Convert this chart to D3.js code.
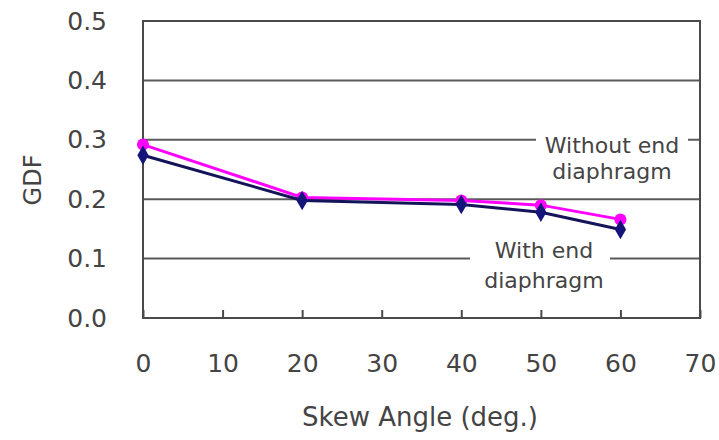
<!DOCTYPE html>
<html>
<head>
<meta charset="utf-8">
<script src="https://cdn.jsdelivr.net/npm/d3@7"></script>
<style>
  body { margin: 0; background: #fff; }
  text { font-family: "DejaVu Sans", sans-serif; fill: #444; }
</style>
</head>
<body>
<div id="chart"></div>
<script>
// Data
const skewAngles = [0, 20, 40, 50, 60];
const withoutEnd = [0.292, 0.203, 0.198, 0.190, 0.166];
const withEnd = [0.274, 0.198, 0.191, 0.178, 0.149];
const xTicks = [0, 10, 20, 30, 40, 50, 60, 70];
const yTicks = [0, 0.1, 0.2, 0.3, 0.4, 0.5];

const W = 719, H = 440;
const margin = { top: 21, right: 19, bottom: 122, left: 143 };
const width = W - margin.left - margin.right;
const height = H - margin.top - margin.bottom;

const svg = d3.select("#chart").append("svg")
    .attr("width", W)
    .attr("height", H);

const g = svg.append("g")
    .attr("transform", `translate(${margin.left},${margin.top})`);

const x = d3.scaleLinear().domain([0, 70]).range([0, width]);
const y = d3.scaleLinear().domain([0, 0.5]).range([height, 0]);

// Gridlines
g.append("g")
    .selectAll("line")
    .data(yTicks.slice(1))
    .join("line")
    .attr("x1", 0)
    .attr("x2", width)
    .attr("y1", d => y(d))
    .attr("y2", d => y(d))
    .attr("stroke", "#5a5a5a")
    .attr("stroke-width", 2);

// Frame
g.append("rect")
    .attr("width", width)
    .attr("height", height)
    .attr("fill", "none")
    .attr("stroke", "#4a4a4a")
    .attr("stroke-width", 2);

// X axis (ticks pointing inward)
const xAxis = g.append("g")
    .attr("transform", `translate(0,${height})`)
    .call(d3.axisBottom(x).tickValues(xTicks).tickSize(-8).tickPadding(36).tickFormat(d3.format("d")));
xAxis.select(".domain").remove();
xAxis.selectAll("line").attr("stroke", "#4a4a4a").attr("stroke-width", 2);
xAxis.selectAll("text").attr("font-size", 25).attr("fill", "#444").attr("font-family", "DejaVu Sans");

// Y axis
const yAxis = g.append("g")
    .call(d3.axisLeft(y).tickValues(yTicks).tickSize(0).tickPadding(36).tickFormat(d3.format(".1f")));
yAxis.select(".domain").remove();
yAxis.selectAll("text").attr("font-size", 25).attr("fill", "#444").attr("font-family", "DejaVu Sans");

// Axis titles
svg.append("text")
    .attr("x", 420)
    .attr("y", 426)
    .attr("text-anchor", "middle")
    .attr("font-size", 26)
    .text("Skew Angle (deg.)");

svg.append("text")
    .attr("transform", "translate(41,180) rotate(-90)")
    .attr("text-anchor", "middle")
    .attr("font-size", 24)
    .text("GDF");

// Annotations with white backing to break gridlines
function label(lines, cx, ys, x0, x1) {
    const grp = svg.append("g");
    grp.append("rect")
        .attr("x", x0)
        .attr("y", ys[0] - 20)
        .attr("width", x1 - x0)
        .attr("height", ys[ys.length - 1] - ys[0] + 26)
        .attr("fill", "#fff");
    lines.forEach((t, i) => {
        grp.append("text")
            .attr("x", cx)
            .attr("y", ys[i])
            .attr("text-anchor", "middle")
            .attr("font-size", 22)
            .text(t);
    });
}
label(["Without end", "diaphragm"], 612, [153, 179], 536, 688);
label(["With end", "diaphragm"], 544, [258, 288], 470, 610);

const line = d3.line()
    .x((d, i) => x(skewAngles[i]))
    .y(d => y(d));

// Without end diaphragm (magenta)
g.append("path")
    .datum(withoutEnd)
    .attr("fill", "none")
    .attr("stroke", "#ff00ff")
    .attr("stroke-width", 3)
    .attr("d", line);
g.append("g")
    .selectAll("circle")
    .data(withoutEnd)
    .join("circle")
    .attr("cx", (d, i) => x(skewAngles[i]))
    .attr("cy", d => y(d))
    .attr("r", 6)
    .attr("fill", "#ff00ff");

// With end diaphragm (navy)
g.append("path")
    .datum(withEnd)
    .attr("fill", "none")
    .attr("stroke", "#14145a")
    .attr("stroke-width", 3)
    .attr("d", line);
g.append("g")
    .selectAll("path")
    .data(withEnd)
    .join("path")
    .attr("transform", (d, i) => `translate(${x(skewAngles[i])},${y(d)})`)
    .attr("d", d3.symbol().type(d3.symbolDiamond).size(110))
    .attr("fill", "#14147a");
</script>
</body>
</html>
